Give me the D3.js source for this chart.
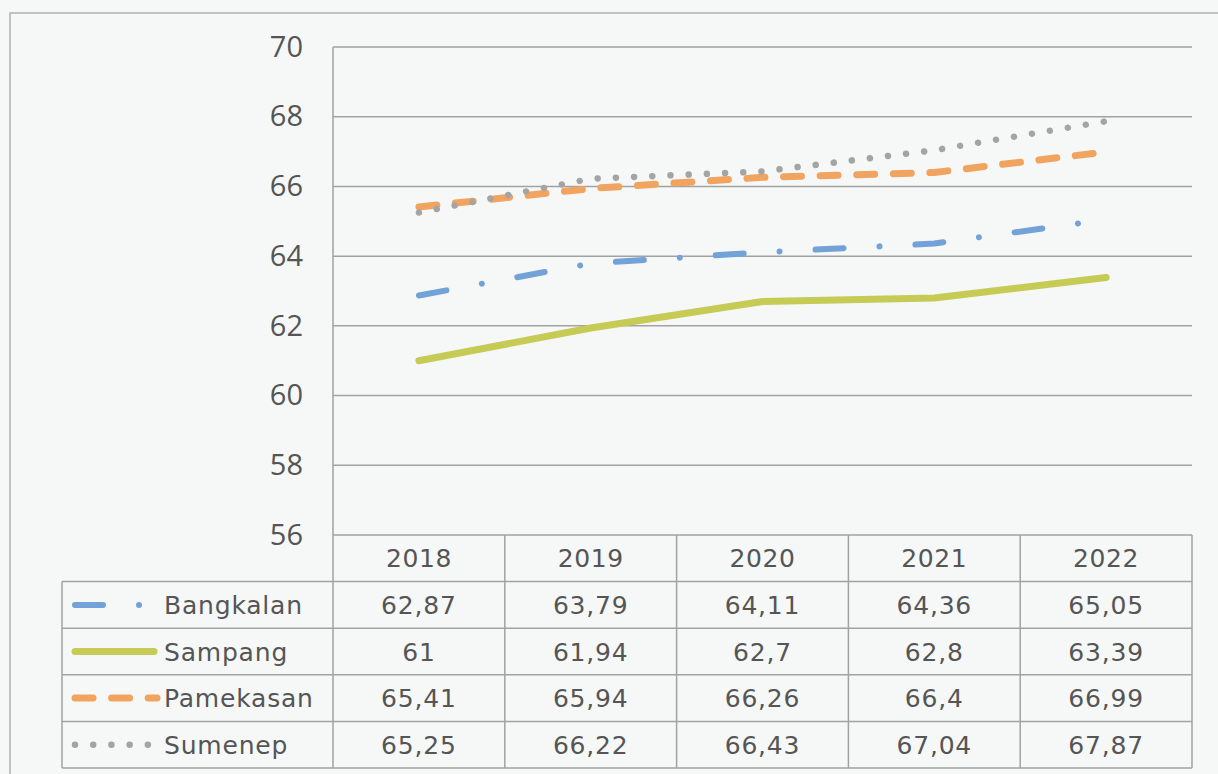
<!DOCTYPE html>
<html>
<head>
<meta charset="utf-8">
<script src="https://cdn.jsdelivr.net/npm/d3@7"></script>
<style>
  body { margin: 0; background: #f6f8f7; }
  svg { display: block; }
</style>
</head>
<body>
<div id="chart"></div>
<script>
// chart values
const years = ["2018", "2019", "2020", "2021", "2022"];
const seriesNames = ["Bangkalan", "Sampang", "Pamekasan", "Sumenep"];
const bangkalan = [62.87, 63.79, 64.11, 64.36, 65.05];
const sampang = [61, 61.94, 62.7, 62.8, 63.39];
const pamekasan = [65.41, 65.94, 66.26, 66.4, 66.99];
const sumenep = [65.25, 66.22, 66.43, 67.04, 67.87];
const yTicks = [56, 58, 60, 62, 64, 66, 68, 70];

// line look for each series
const styles = {
  "Bangkalan": {color: "#72a2d8", width: 6, dash: "28,36,0.01,36"},
  "Sampang":   {color: "#c5cb55", width: 7, dash: null},
  "Pamekasan": {color: "#f0a460", width: 7, dash: "18,18.6"},
  "Sumenep":   {color: "#a3a4a4", width: 6.5, dash: "0.01,18.2"}
};

const series = [
  {name: seriesNames[0], values: bangkalan},
  {name: seriesNames[1], values: sampang},
  {name: seriesNames[2], values: pamekasan},
  {name: seriesNames[3], values: sumenep}
];

const W = 1218, H = 774;
const plot = {left: 333, right: 1192, top: 47, bottom: 535};
const tableLeft = 62;
const rowH = 46.6;
const gridColor = "#a2a2a2";
const textColor = "#555";

const svg = d3.select("#chart").append("svg")
  .attr("width", W)
  .attr("height", H);

// outer frame (runs off the right and bottom)
svg.append("rect")
  .attr("x", 10).attr("y", 13)
  .attr("width", W + 20).attr("height", H + 20)
  .attr("fill", "none")
  .attr("stroke", "#b0b0b0")
  .attr("stroke-width", 1.5);

const x = d3.scaleBand()
  .domain(years)
  .range([plot.left, plot.right]);

const y = d3.scaleLinear()
  .domain([56, 70])
  .range([plot.bottom, plot.top]);

// gridlines
svg.append("g")
  .selectAll("line")
  .data(yTicks)
  .join("line")
  .attr("x1", plot.left).attr("x2", plot.right)
  .attr("y1", d => y(d)).attr("y2", d => y(d))
  .attr("stroke", gridColor)
  .attr("stroke-width", 1.5);

// y axis labels
const yAxis = svg.append("g")
  .attr("transform", `translate(${plot.left},0)`)
  .call(d3.axisLeft(y).tickValues(yTicks).tickSize(0).tickPadding(30).tickFormat(d3.format("d")));
yAxis.select(".domain").remove();
yAxis.selectAll("text")
  .attr("fill", textColor)
  .style("font-family", "'Open Sans', sans-serif")
  .style("font-size", "29px");

// data table
const tableTop = plot.bottom;
const tableBottom = tableTop + rowH * (series.length + 1);
const tbl = svg.append("g");

// horizontal rules of the table
tbl.selectAll("line.h")
  .data(d3.range(1, series.length + 2))
  .join("line")
  .attr("class", "h")
  .attr("x1", tableLeft).attr("x2", plot.right)
  .attr("y1", i => tableTop + i * rowH).attr("y2", i => tableTop + i * rowH)
  .attr("stroke", gridColor).attr("stroke-width", 1.5);

// vertical rules
const colEdges = years.map(d => x(d)).concat([plot.right]);
tbl.selectAll("line.v")
  .data(colEdges)
  .join("line")
  .attr("class", "v")
  .attr("x1", d => d).attr("x2", d => d)
  .attr("y1", (d, i) => i === 0 ? plot.top : tableTop)
  .attr("y2", tableBottom)
  .attr("stroke", gridColor).attr("stroke-width", 1.5);
tbl.append("line")
  .attr("x1", tableLeft).attr("x2", tableLeft)
  .attr("y1", tableTop + rowH).attr("y2", tableBottom)
  .attr("stroke", gridColor).attr("stroke-width", 1.5);

const tableFont = "'DejaVu Sans', sans-serif";

// header years
tbl.selectAll("text.year")
  .data(years)
  .join("text")
  .attr("class", "year")
  .attr("x", d => x(d) + x.bandwidth() / 2)
  .attr("y", tableTop + rowH / 2)
  .attr("dy", "0.36em")
  .attr("text-anchor", "middle")
  .attr("fill", textColor)
  .style("font-family", tableFont)
  .style("font-size", "25px")
  .style("letter-spacing", "0.6px")
  .text(d => d);

// rows: legend key, name, values
const rows = tbl.selectAll("g.row")
  .data(series)
  .join("g")
  .attr("class", "row")
  .attr("transform", (d, i) => `translate(0,${tableTop + (i + 1) * rowH + rowH / 2})`);

rows.append("line")
  .attr("x1", 75).attr("x2", d => styles[d.name].dash ? 157 : 154)
  .attr("y1", 0).attr("y2", 0)
  .attr("stroke", d => styles[d.name].color)
  .attr("stroke-width", d => styles[d.name].width)
  .attr("stroke-linecap", "round")
  .attr("stroke-dasharray", d => styles[d.name].dash);

rows.append("text")
  .attr("x", 164)
  .attr("dy", "0.36em")
  .attr("fill", textColor)
  .style("font-family", tableFont)
  .style("font-size", "25px")
  .style("letter-spacing", "0.8px")
  .text(d => d.name);

rows.selectAll("text.val")
  .data(d => d.values.map((v, i) => ({v, year: years[i]})))
  .join("text")
  .attr("class", "val")
  .attr("x", d => x(d.year) + x.bandwidth() / 2)
  .attr("dy", "0.36em")
  .attr("text-anchor", "middle")
  .attr("fill", textColor)
  .style("font-family", tableFont)
  .style("font-size", "25px")
  .style("letter-spacing", "0.8px")
  .text(d => String(d.v).replace(".", ","));

// series lines
const line = d3.line()
  .x((d, i) => x(years[i]) + x.bandwidth() / 2)
  .y(d => y(d));

svg.append("g")
  .selectAll("path")
  .data(series)
  .join("path")
  .attr("d", d => line(d.values))
  .attr("fill", "none")
  .attr("stroke", d => styles[d.name].color)
  .attr("stroke-width", d => styles[d.name].width)
  .attr("stroke-linecap", "round")
  .attr("stroke-linejoin", "round")
  .attr("stroke-dasharray", d => styles[d.name].dash);
</script>
</body>
</html>
